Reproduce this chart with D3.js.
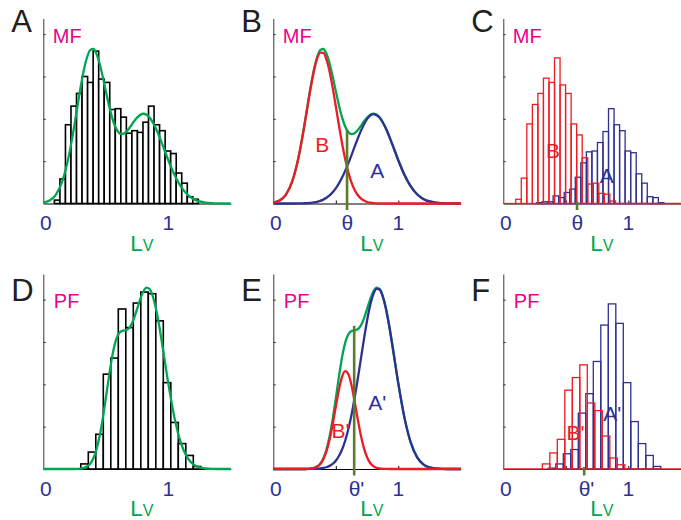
<!DOCTYPE html>
<html><head><meta charset="utf-8">
<script src="https://cdn.jsdelivr.net/npm/d3@7"></script>
<style>
body{margin:0;background:#fff}
svg{display:block;font-family:"Liberation Sans",Arial,Helvetica,sans-serif}
</style>
</head><body>
<svg id="c" width="681" height="520"></svg>
<script>
// ---------------- data ----------------
const xDomain = [0, 1.5];
const xTickValues = [0, 1];
const xTickLabels = ["0", "1"];
const xMinorTicks = [0.5, 1];
const yTicks = [0.5, 1, 1.5, 2];
const panelLetters = ["A", "B", "C", "D", "E", "F"];
const rowLabels = ["MF", "PF"];
const theta = 0.59, thetaPrime = 0.647;
const thetaCurveHeight = 0.87, thetaPrimeCurveHeight = 1.69;

// MF histogram (panel A)
const mfBinStart = 0.0886, mfBinWidth = 0.0443;
const mfCounts = [0.04,0.29,0.93,1.15,1.30,1.50,1.43,1.80,1.47,1.43,1.11,1.12,1.02,0.83,0.86,0.84,0.96,1.15,0.93,0.86,0.62,0.59,0.36,0.24,0.08,0.05];
// MF split histograms (panel C)
const mfRedStart = 0.0996;
const mfRedCounts = [0.05,0.30,0.94,1.17,1.30,1.48,1.43,1.72,1.40,1.30,0.94,0.81,0.54,0.23,0.24,0.12,0.11,0.03];
const mfBlueStart = 0.2658;
const mfBlueCounts = [0.01,0.02,0.02,0.09,0.07,0.13,0.17,0.31,0.48,0.61,0.62,0.72,0.85,1.12,0.93,0.86,0.62,0.60,0.35,0.24,0.08,0.07,0.01];

// PF histogram (panel D)
const pfBinStart = 0.30, pfBinWidth = 0.06;
const pfCounts = [0.06,0.20,0.41,1.12,1.31,1.89,1.67,1.96,2.09,2.07,1.75,1.02,0.55,0.30,0.16,0.03];
// PF split histograms (panel F)
const pfRedStart = 0.312;
const pfRedCounts = [0.06,0.19,0.35,0.93,1.08,1.23,0.78,0.69,0.39,0.13,0.05];
const pfBlueStart = 0.30;
const pfBlueCounts = [0,0.01,0.06,0.18,0.23,0.66,0.89,1.27,1.70,1.95,1.72,1.02,0.56,0.30,0.16,0.03];

// MF mixture curves (panels A, B)
const mfCurveX = [0,0.05,0.1,0.15,0.2,0.225,0.25,0.275,0.3,0.325,0.35,0.375,0.4,0.425,0.45,0.475,0.5,0.525,0.55,0.575,0.6,0.625,0.65,0.675,0.7,0.725,0.75,0.8,0.85,0.9,0.95,1.0,1.05,1.1,1.15,1.2,1.25,1.3,1.35,1.4,1.45,1.5];
const mfRed = [0.010,0.035,0.102,0.254,0.532,0.720,0.933,1.158,1.376,1.566,1.707,1.781,1.779,1.702,1.560,1.368,1.149,0.924,0.712,0.525,0.370,0.250,0.162,0.100,0.060,0.034,0.018,0.005,0.001,0,0,0,0,0,0,0,0,0,0,0,0,0];
const mfBlue = [0,0,0,0,0.001,0.002,0.003,0.005,0.008,0.013,0.020,0.031,0.046,0.067,0.096,0.133,0.179,0.237,0.306,0.385,0.474,0.569,0.668,0.765,0.855,0.934,0.996,1.055,1.015,0.888,0.707,0.511,0.336,0.201,0.109,0.054,0.024,0.010,0.004,0.001,0,0];
const mfGreen = [0.010,0.035,0.102,0.254,0.533,0.722,0.936,1.163,1.384,1.579,1.727,1.812,1.825,1.769,1.656,1.501,1.328,1.161,1.018,0.910,0.844,0.819,0.830,0.865,0.915,0.968,1.014,1.060,1.016,0.888,0.707,0.511,0.336,0.201,0.109,0.054,0.024,0.010,0.004,0.001,0,0];

// PF mixture curves (panels D, E)
const pfCurveX = [0,0.1,0.2,0.25,0.3,0.325,0.35,0.375,0.4,0.425,0.45,0.475,0.5,0.525,0.55,0.575,0.6,0.625,0.65,0.675,0.7,0.725,0.75,0.775,0.8,0.825,0.85,0.875,0.9,0.925,0.95,1.0,1.05,1.1,1.15,1.2,1.25,1.3,1.35,1.4,1.45,1.5];
const pfRed = [0,0,0,0,0.004,0.011,0.026,0.056,0.113,0.207,0.346,0.528,0.736,0.936,1.089,1.156,1.121,0.992,0.803,0.593,0.400,0.246,0.139,0.071,0.033,0.014,0.006,0.002,0.001,0,0,0,0,0,0,0,0,0,0,0,0,0];
const pfBlue = [0,0,0,0,0.001,0.002,0.003,0.006,0.012,0.021,0.037,0.061,0.098,0.153,0.230,0.334,0.469,0.636,0.834,1.057,1.294,1.531,1.750,1.933,2.063,2.128,2.121,2.042,1.901,1.709,1.485,1.011,0.601,0.311,0.140,0.055,0.019,0.006,0.001,0,0,0];
const pfGreen = [0,0,0,0,0.005,0.013,0.029,0.062,0.125,0.228,0.383,0.589,0.834,1.089,1.319,1.490,1.590,1.628,1.637,1.650,1.694,1.777,1.889,2.004,2.096,2.142,2.127,2.044,1.902,1.709,1.485,1.011,0.601,0.311,0.140,0.055,0.019,0.006,0.001,0,0,0];

// ---------------- drawing ----------------
const C = {green:"#00a651", red:"#ed1c24", blue:"#2e3192", magenta:"#ec008c", olive:"#5a7d2c", axis:"#3a3a3a"};
const svg = d3.select("#c");
const colX = [43.3, 273.3, 503.3], rowY = [203.5, 469], rowMax = [2.185, 2.303], unitY = 84.67, unitX = 125;

function panel(c, r, idx){
  const x = d3.scaleLinear().domain(xDomain).range([colX[c], colX[c] + unitX*1.5]);
  const y = d3.scaleLinear().domain([0, rowMax[r]]).range([rowY[r], rowY[r] - rowMax[r]*unitY]);
  const g = svg.append("g");
  const gx = g.append("g").attr("transform", `translate(0,${y(0)})`)
    .call(d3.axisTop(x).tickValues(xMinorTicks).tickSize(3).tickSizeOuter(0).tickFormat(""));
  gx.select(".domain").attr("stroke", "#000").attr("stroke-width", 1);
  gx.selectAll(".tick line").attr("stroke", "#000");
  const gy = g.append("g").attr("transform", `translate(${x(0)},0)`)
    .call(d3.axisRight(y).tickValues(yTicks).tickSize(2.5).tickSizeOuter(0).tickFormat(""));
  gy.select(".domain").attr("stroke", C.axis).attr("stroke-width", 1);
  gy.selectAll(".tick line").attr("stroke", C.axis);
  g.append("text").attr("x", x(0) - 32).attr("y", r === 0 ? 31.7 : 300.7)
    .attr("font-size", 31).attr("fill", "#231f20").text(panelLetters[idx]);
  g.append("text").attr("x", x(0) + (r === 0 ? 9.5 : 10.5)).attr("y", r === 0 ? 42.5 : 307.5)
    .attr("font-size", 20).attr("fill", C.magenta).text(rowLabels[r]);
  const t = g.append("text").attr("x", x(0) + 87).attr("y", y(0) + 47).attr("fill", C.green);
  t.append("tspan").attr("font-size", 22.5).text("L");
  t.append("tspan").attr("font-size", 16).text("V");
  return {x, y, g, c, r};
}

function tickLabels(p, extra){
  const {x, y, g} = p;
  xTickValues.forEach((v, i) => {
    g.append("text").attr("x", x(v) + (v === 0 ? 2.5 : 0)).attr("y", y(0) + 26.5)
      .attr("text-anchor", "middle").attr("font-size", 21).attr("fill", C.blue).text(xTickLabels[i]);
  });
  if (extra) {
    g.append("text").attr("x", x(extra.v) - 5.5).attr("y", y(0) + 26.5)
      .attr("font-size", 21).attr("fill", C.blue).text(extra.label);
  }
}

function bars(p, start, width, counts, stroke, fill, sw){
  const {x, y, g} = p;
  const data = counts.map((v, i) => ({x0: start + i*width, v})).filter(d => d.v > 0);
  g.append("g").selectAll("rect").data(data).join("rect")
    .attr("x", d => x(d.x0)).attr("width", x(width) - x(0))
    .attr("y", d => y(d.v)).attr("height", d => y(0) - y(d.v))
    .attr("fill", fill).attr("stroke", stroke).attr("stroke-width", sw || 1.3);
}

function curve(p, xs, ys, color){
  const {x, y, g} = p;
  const line = d3.line().x(d => x(d[0])).y(d => y(d[1])).curve(d3.curveMonotoneX);
  g.append("path").datum(xs.map((v, i) => [v, ys[i]])).attr("d", line)
    .attr("fill", "none").attr("stroke", color).attr("stroke-width", 2.3)
    .attr("stroke-linejoin", "round").attr("stroke-linecap", "butt");
}

function thetaMark(p, v, top){
  const {x, y, g} = p;
  g.append("line").attr("x1", x(v)).attr("x2", x(v)).attr("y1", y(0) + 6.5).attr("y2", top === null ? y(0) - 2 : y(top))
    .attr("stroke", C.olive).attr("stroke-width", 2.6);
}

function label(p, xv, yv, txt, color, anchor){
  p.g.append("text").attr("x", p.x(xv)).attr("y", p.y(yv)).attr("text-anchor", anchor || "middle")
    .attr("font-size", 21).attr("fill", color).text(txt);
}

// A
const pA = panel(0, 0, 0);
bars(pA, mfBinStart, mfBinWidth, mfCounts, "#000", "#fff", 1.6);
curve(pA, mfCurveX, mfGreen, C.green);
tickLabels(pA);

// B
const pB = panel(1, 0, 1);
curve(pB, mfCurveX, mfGreen, C.green);
curve(pB, mfCurveX, mfBlue, C.blue);
curve(pB, mfCurveX, mfRed, C.red);
thetaMark(pB, theta, thetaCurveHeight);
label(pB, 0.391, 0.612, "B", C.red);
label(pB, 0.831, 0.298, "A", C.blue);
tickLabels(pB, {v: theta, label: "θ"});

// C
const pC = panel(2, 0, 2);
bars(pC, mfBlueStart, mfBinWidth, mfBlueCounts, C.blue, "none");
bars(pC, mfRedStart, mfBinWidth, mfRedCounts, C.red, "none");
pC.g.append("line").attr("x1", pC.x(0)).attr("x2", pC.x(mfRedStart)).attr("y1", pC.y(0)).attr("y2", pC.y(0)).attr("stroke", C.red).attr("stroke-width", 1.3);
pC.g.append("line").attr("x1", pC.x(mfRedStart + mfRedCounts.length*mfBinWidth)).attr("x2", pC.x(1.5)).attr("y1", pC.y(0)).attr("y2", pC.y(0)).attr("stroke", C.red).attr("stroke-width", 1.3);
thetaMark(pC, theta, null);
label(pC, 0.398, 0.543, "B", C.red);
label(pC, 0.827, 0.242, "A", C.blue);
tickLabels(pC, {v: theta, label: "θ"});

// D
const pD = panel(0, 1, 3);
bars(pD, pfBinStart, pfBinWidth, pfCounts, "#000", "#fff", 1.6);
curve(pD, pfCurveX, pfGreen, C.green);
tickLabels(pD);

// E
const pE = panel(1, 1, 4);
curve(pE, pfCurveX, pfGreen, C.green);
curve(pE, pfCurveX, pfBlue, C.blue);
curve(pE, pfCurveX, pfRed, C.red);
thetaMark(pE, thetaPrime, thetaPrimeCurveHeight);
label(pE, 0.76, 0.697, "A'", C.blue, "start");
label(pE, 0.466, 0.366, "B'", C.red, "start");
tickLabels(pE, {v: thetaPrime, label: "θ'"});

// F
const pF = panel(2, 1, 5);
bars(pF, pfBlueStart, pfBinWidth, pfBlueCounts, C.blue, "none");
bars(pF, pfRedStart, pfBinWidth, pfRedCounts, C.red, "none");
pF.g.append("line").attr("x1", pF.x(0)).attr("x2", pF.x(pfRedStart)).attr("y1", pF.y(0)).attr("y2", pF.y(0)).attr("stroke", C.red).attr("stroke-width", 1.3);
pF.g.append("line").attr("x1", pF.x(pfRedStart + pfRedCounts.length*pfBinWidth)).attr("x2", pF.x(1.5)).attr("y1", pF.y(0)).attr("y2", pF.y(0)).attr("stroke", C.red).attr("stroke-width", 1.3);
thetaMark(pF, thetaPrime, null);
label(pF, 0.80, 0.567, "A'", C.blue, "start");
label(pF, 0.506, 0.343, "B'", C.red, "start");
tickLabels(pF, {v: thetaPrime, label: "θ'"});
</script>
</body></html>
